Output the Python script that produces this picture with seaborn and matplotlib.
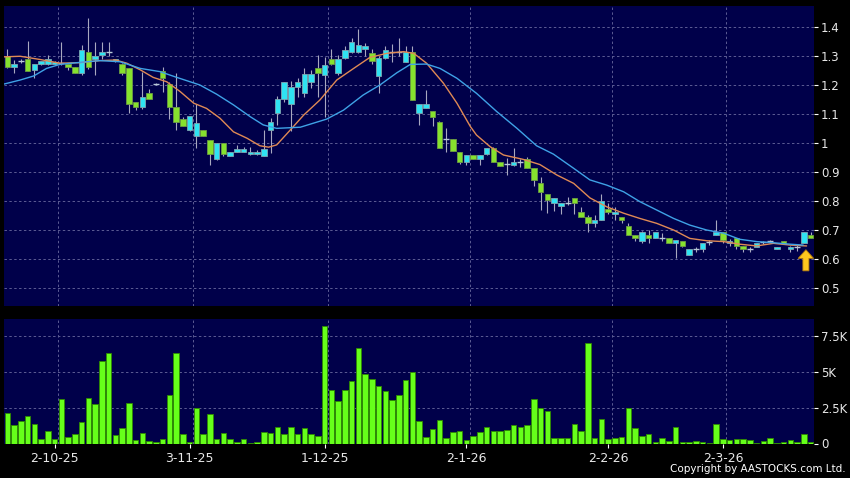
import numpy as np
import pandas as pd
import matplotlib
matplotlib.use("Agg")
from matplotlib import pyplot as plt
import seaborn as sns

# ======================================================================
# Data (price in HKD, volume in thousands of shares)
# ======================================================================
opens = [1.301, 1.261, 1.283, 1.289, 1.250, 1.272, 1.272, 1.272, 1.275, 1.271,
         1.261, 1.240, 1.313, 1.291, 1.302, 1.312, 1.282, 1.271, 1.257, 1.142,
         1.123, 1.171, 1.202, 1.248, 1.202, 1.123, 1.081, 1.043, 1.024, 1.043,
         1.011, 0.944, 1.001, 0.955, 0.970, 0.970, 0.960, 0.960, 0.955, 1.044,
         1.102, 1.151, 1.133, 1.192, 1.172, 1.211, 1.260, 1.233, 1.291, 1.240,
         1.292, 1.313, 1.313, 1.323, 1.310, 1.232, 1.292, 1.315, 1.315, 1.280,
         1.313, 1.102, 1.121, 1.111, 1.072, 1.012, 1.012, 0.970, 0.933, 0.959,
         0.943, 0.960, 0.981, 0.933, 0.927, 0.922, 0.933, 0.943, 0.912, 0.860,
         0.822, 0.791, 0.782, 0.791, 0.811, 0.760, 0.743, 0.722, 0.734, 0.770,
         0.753, 0.743, 0.713, 0.682, 0.661, 0.682, 0.670, 0.671, 0.670, 0.653,
         0.662, 0.611, 0.632, 0.632, 0.656, 0.681, 0.691, 0.653, 0.670, 0.645,
         0.632, 0.641, 0.656, 0.662, 0.632, 0.662, 0.632, 0.641, 0.653, 0.681]
highs = [1.323, 1.286, 1.290, 1.352, 1.271, 1.283, 1.303, 1.284, 1.349, 1.273,
         1.261, 1.338, 1.430, 1.349, 1.349, 1.349, 1.291, 1.275, 1.257, 1.142,
         1.243, 1.185, 1.205, 1.261, 1.210, 1.240, 1.090, 1.091, 1.133, 1.043,
         1.011, 1.001, 1.001, 0.970, 0.993, 0.984, 0.985, 0.975, 1.043, 1.086,
         1.163, 1.211, 1.215, 1.225, 1.257, 1.250, 1.303, 1.297, 1.324, 1.305,
         1.335, 1.361, 1.392, 1.345, 1.324, 1.300, 1.335, 1.340, 1.361, 1.334,
         1.334, 1.133, 1.182, 1.111, 1.075, 1.050, 1.012, 0.970, 0.959, 0.959,
         0.959, 0.981, 0.985, 0.933, 0.947, 0.981, 0.945, 0.950, 0.912, 0.883,
         0.822, 0.811, 0.791, 0.812, 0.811, 0.780, 0.752, 0.750, 0.822, 0.791,
         0.780, 0.743, 0.722, 0.682, 0.695, 0.699, 0.691, 0.690, 0.670, 0.665,
         0.662, 0.632, 0.640, 0.653, 0.663, 0.733, 0.691, 0.668, 0.670, 0.645,
         0.642, 0.653, 0.662, 0.666, 0.641, 0.662, 0.644, 0.652, 0.691, 0.691]
lows = [1.258, 1.240, 1.276, 1.249, 1.223, 1.270, 1.268, 1.270, 1.268, 1.253,
        1.240, 1.236, 1.255, 1.234, 1.290, 1.300, 1.280, 1.235, 1.102, 1.113,
        1.118, 1.150, 1.200, 1.177, 1.082, 1.044, 1.059, 1.040, 0.981, 1.022,
        0.924, 0.940, 0.955, 0.955, 0.968, 0.968, 0.958, 0.958, 0.955, 0.965,
        1.062, 1.140, 1.041, 1.160, 1.160, 1.190, 1.159, 1.090, 1.270, 1.235,
        1.290, 1.310, 1.310, 1.300, 1.271, 1.171, 1.290, 1.280, 1.300, 1.278,
        1.148, 1.060, 1.120, 1.058, 0.981, 0.970, 0.971, 0.928, 0.925, 0.943,
        0.925, 0.958, 0.933, 0.920, 0.889, 0.920, 0.915, 0.912, 0.852, 0.768,
        0.757, 0.765, 0.753, 0.785, 0.753, 0.743, 0.691, 0.710, 0.734, 0.753,
        0.733, 0.722, 0.682, 0.661, 0.653, 0.653, 0.670, 0.661, 0.653, 0.601,
        0.641, 0.611, 0.622, 0.622, 0.648, 0.681, 0.655, 0.645, 0.633, 0.623,
        0.622, 0.641, 0.652, 0.656, 0.632, 0.653, 0.622, 0.627, 0.653, 0.670]
closes = [1.261, 1.271, 1.283, 1.249, 1.271, 1.283, 1.289, 1.280, 1.275, 1.261,
          1.240, 1.322, 1.261, 1.301, 1.313, 1.312, 1.291, 1.240, 1.134, 1.123,
          1.159, 1.151, 1.202, 1.223, 1.123, 1.073, 1.059, 1.091, 1.068, 1.022,
          0.960, 1.001, 0.960, 0.970, 0.980, 0.980, 0.970, 0.970, 0.980, 1.071,
          1.151, 1.211, 1.192, 1.211, 1.238, 1.238, 1.240, 1.270, 1.271, 1.291,
          1.321, 1.349, 1.338, 1.333, 1.283, 1.292, 1.321, 1.315, 1.315, 1.313,
          1.148, 1.133, 1.133, 1.090, 0.981, 1.012, 0.971, 0.933, 0.959, 0.943,
          0.959, 0.981, 0.933, 0.921, 0.927, 0.933, 0.933, 0.912, 0.872, 0.831,
          0.803, 0.811, 0.791, 0.791, 0.791, 0.743, 0.722, 0.732, 0.800, 0.760,
          0.760, 0.734, 0.682, 0.670, 0.691, 0.670, 0.691, 0.671, 0.653, 0.665,
          0.643, 0.632, 0.632, 0.653, 0.656, 0.691, 0.664, 0.662, 0.645, 0.633,
          0.632, 0.653, 0.656, 0.662, 0.641, 0.653, 0.641, 0.641, 0.691, 0.670]
volumes_k = [2.13, 1.27, 1.55, 1.92, 1.37, 0.30, 0.88, 0.30, 3.08, 0.46,
             0.63, 1.48, 3.17, 2.75, 5.74, 6.32, 0.58, 1.06, 2.85, 0.21,
             0.74, 0.16, 0.12, 0.30, 3.38, 6.34, 0.69, 0.12, 2.48, 0.63,
             2.04, 0.32, 0.74, 0.30, 0.07, 0.32, 0.05, 0.09, 0.83, 0.74,
             1.13, 0.63, 1.13, 0.63, 1.06, 0.63, 0.51, 8.19, 3.70, 2.99,
             3.75, 4.35, 6.64, 4.84, 4.49, 4.00, 3.66, 3.03, 3.36, 4.42,
             5.00, 1.55, 0.46, 1.00, 1.67, 0.37, 0.79, 0.86, 0.23, 0.53,
             0.83, 1.16, 0.86, 0.90, 0.95, 1.27, 1.13, 1.30, 3.08, 2.48,
             2.27, 0.37, 0.37, 0.39, 1.39, 0.86, 6.99, 0.39, 1.74, 0.28,
             0.39, 0.44, 2.48, 1.06, 0.53, 0.63, 0.12, 0.39, 0.14, 1.18,
             0.09, 0.09, 0.14, 0.09, 0.02, 1.37, 0.32, 0.23, 0.28, 0.30,
             0.21, 0.02, 0.19, 0.37, 0.02, 0.07, 0.23, 0.09, 0.67, 0.09]

# moving averages, read at bar positions along each line
ma_short_pos = [-0.5, 1.9, 4.8, 7.8, 10.8, 13.7, 16.0, 17.7, 19.7, 21.6,
                23.6, 25.6, 27.6, 29.5, 31.5, 33.5, 35.5, 37.4, 38.7, 39.9,
                41.9, 43.9, 46.3, 48.8, 51.3, 53.7, 56.2, 58.7, 60.2, 62.1,
                64.6, 66.6, 68.6, 69.5, 71.5, 73.5, 76.4, 78.9, 81.4, 83.9,
                86.3, 88.8, 91.3, 93.7, 96.2, 98.7, 101.1, 103.6, 106.1, 108.5,
                111.0, 113.5, 116.0, 118.4]
ma_short_val = [1.297, 1.299, 1.288, 1.275, 1.277, 1.284, 1.286, 1.275, 1.252, 1.226,
                1.211, 1.177, 1.137, 1.119, 1.085, 1.038, 1.016, 0.990, 0.985, 0.993,
                1.044, 1.096, 1.148, 1.217, 1.257, 1.295, 1.309, 1.315, 1.309, 1.275,
                1.206, 1.137, 1.056, 1.027, 0.987, 0.958, 0.943, 0.925, 0.889, 0.860,
                0.810, 0.779, 0.757, 0.739, 0.722, 0.699, 0.670, 0.662, 0.659, 0.650,
                0.644, 0.653, 0.647, 0.644]
ma_long_pos = [-0.5, 1.9, 3.9, 5.8, 7.8, 10.8, 13.7, 16.7, 19.7, 22.6,
               25.1, 28.5, 31.0, 33.5, 36.0, 37.9, 39.9, 43.4, 47.3, 49.8,
               52.7, 55.2, 57.7, 59.7, 62.1, 64.1, 66.6, 69.5, 72.5, 75.5,
               78.4, 80.9, 83.9, 86.3, 88.8, 91.3, 93.7, 96.2, 98.7, 101.1,
               103.6, 106.1, 108.5, 111.0, 113.5, 116.0, 117.9]
ma_long_val = [1.203, 1.217, 1.231, 1.257, 1.271, 1.278, 1.284, 1.280, 1.257, 1.246,
               1.226, 1.200, 1.168, 1.131, 1.090, 1.062, 1.050, 1.054, 1.082, 1.113,
               1.165, 1.200, 1.242, 1.271, 1.272, 1.257, 1.223, 1.171, 1.108, 1.050,
               0.990, 0.961, 0.912, 0.872, 0.854, 0.831, 0.797, 0.768, 0.739, 0.716,
               0.699, 0.688, 0.667, 0.659, 0.655, 0.650, 0.647]

date_labels = ["2-10-25", "3-11-25", "1-12-25", "2-1-26", "2-2-26", "2-3-26"]
date_idx = [7, 27, 47, 68, 89, 106]
price_ticks = [0.5, 0.6, 0.7, 0.8, 0.9, 1.0, 1.1, 1.2, 1.3, 1.4]
vol_ticks = [0, 2.5, 5, 7.5]
vol_tick_labels = ["0", "2.5K", "5K", "7.5K"]
arrow_bar = 118.3

# colours
BG = "#00004a"
UP = "#2fe3f2"
DOWN = "#86e22e"
VOL = "#66ff1a"
GRID = "#5c5c94"

df = pd.DataFrame({"open": opens, "high": highs, "low": lows,
                   "close": closes, "vol": volumes_k})
df["idx"] = np.arange(len(df))

sns.set_style("dark")
plt.rcParams["font.family"] = ["DejaVu Sans"]

fig = plt.figure(figsize=(8.5, 4.78), dpi=100, facecolor="black")
ax = fig.add_axes([4 / 850, 1 - 306 / 478, 810 / 850, 300.3 / 478])
axv = fig.add_axes([4 / 850, 1 - 443.5 / 478, 810 / 850, 124.5 / 478])

for a in (ax, axv):
    a.set_facecolor(BG)
    for s in a.spines.values():
        s.set_visible(False)
    for d in date_idx:
        a.axvline(d + 0.5, color=GRID, lw=0.7, ls=(0, (2.5, 2.5)), zorder=1)

# ---- candles ----
ax.vlines(df["idx"], df["low"], df["high"], color="#a8a8c0", lw=0.8, zorder=2)
up = df["close"] > df["open"]
down = df["close"] < df["open"]
flat = df["close"] == df["open"]
body = (df["close"] - df["open"]).abs()
base = df[["open", "close"]].min(axis=1)
ax.bar(df["idx"][up], body[up], bottom=base[up], width=0.8, color=UP,
       edgecolor="#7fa6b0", lw=0.6, zorder=3)
ax.bar(df["idx"][down], body[down], bottom=base[down], width=0.8, color=DOWN,
       edgecolor="#6c9c44", lw=0.6, zorder=3)
ax.hlines(df["open"][flat], df["idx"][flat] - 0.45, df["idx"][flat] + 0.45,
          color="#b8c8d8", lw=1.0, zorder=3)

# ---- moving averages ----
sns.lineplot(x=ma_short_pos, y=ma_short_val, color="#e08a55", lw=1.0, ax=ax, zorder=4)
sns.lineplot(x=ma_long_pos, y=ma_long_val, color="#3fa2e6", lw=1.0, ax=ax, zorder=4)

# arrow marking the latest session
ax.arrow(arrow_bar, 0.558, 0, 0.073, width=0.9, head_width=2.3, head_length=0.03,
         length_includes_head=True, fc="#ffc81e", ec="#b07a10", lw=0.6, zorder=5)

ax.set_xlim(-0.5, 119.5)
ax.set_ylim(0.4366, 1.4736)
ax.set_yticks(price_ticks)
ax.set_yticklabels([f"{t:g}" for t in price_ticks])
ax.yaxis.grid(True, color=GRID, lw=0.7, ls=(0, (2.5, 2.5)))
ax.xaxis.grid(False)
ax.tick_params(axis="y", left=False, right=True, labelleft=False, labelright=True,
               colors="white", labelcolor="#e8e8e8", length=3, width=0.8,
               labelsize=8.5, pad=2)
ax.tick_params(axis="x", bottom=False, labelbottom=False)

# ---- volume ----
sns.barplot(x=df["idx"], y=df["vol"], native_scale=True, width=0.85, color=VOL,
            saturation=1, edgecolor="#2f8a00", linewidth=0.6, errorbar=None,
            ax=axv, zorder=3)
axv.set_xlim(-0.5, 119.5)
axv.set_ylim(0, 8.68)
axv.set_yticks(vol_ticks)
axv.set_yticklabels(vol_tick_labels)
axv.yaxis.grid(True, color=GRID, lw=0.7, ls=(0, (2.5, 2.5)))
axv.xaxis.grid(False)
axv.set_xticks(date_idx)
axv.set_xticklabels(date_labels)
axv.set_xlabel("")
axv.set_ylabel("")
axv.tick_params(axis="y", left=False, right=True, labelleft=False, labelright=True,
                colors="white", labelcolor="#e8e8e8", length=3, width=0.8,
                labelsize=8.5, pad=2)
axv.tick_params(axis="x", bottom=True, colors="white", labelcolor="#e8e8e8",
                length=3, width=0.8, labelsize=9, pad=3)

fig.text(0.995, 0.008, "Copyright by AASTOCKS.com Ltd.", color="white",
         fontsize=7.5, ha="right", va="bottom")

fig.savefig("out.png", dpi=100, facecolor="black")
